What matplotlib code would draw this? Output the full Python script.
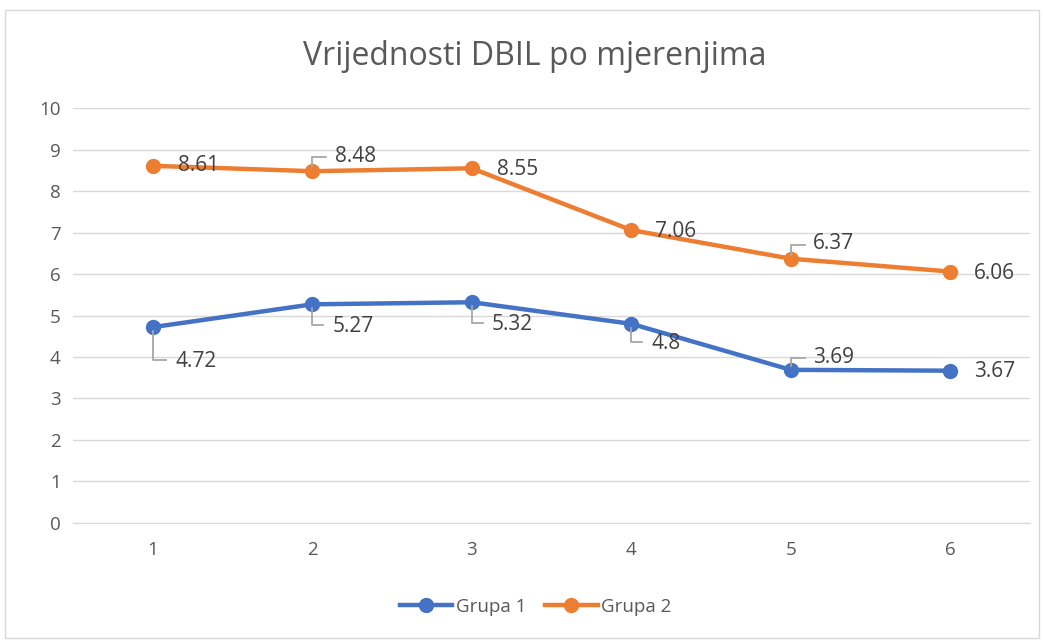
import matplotlib
matplotlib.use("Agg")
import matplotlib.pyplot as plt
from matplotlib.patches import Rectangle
from matplotlib.lines import Line2D

plt.rcParams['font.family'] = ['Open Sans', 'DejaVu Sans']

categories = [1, 2, 3, 4, 5, 6]
grupa1 = [4.72, 5.27, 5.32, 4.8, 3.69, 3.67]
grupa2 = [8.61, 8.48, 8.55, 7.06, 6.37, 6.06]
labels1 = ["4.72", "5.27", "5.32", "4.8", "3.69", "3.67"]
labels2 = ["8.61", "8.48", "8.55", "7.06", "6.37", "6.06"]
title = "Vrijednosti DBIL po mjerenjima"

BLUE = "#4472C4"
ORANGE = "#ED7D31"
TXT = "#404040"
GRAY = "#595959"

fig = plt.figure(figsize=(10.44, 6.4), dpi=100)
ax = fig.add_axes([0.070, 0.183, 0.9166, 0.648])

ax.plot(categories, grupa1, color=BLUE, lw=3.2, marker='o', ms=10, label="Grupa 1", zorder=3)
ax.plot(categories, grupa2, color=ORANGE, lw=3.2, marker='o', ms=10, label="Grupa 2", zorder=3)

ax.set_xlim(0.5, 6.5)
ax.set_ylim(0, 10)
ax.set_yticks(range(0, 11))
ax.set_xticks(categories)
ax.grid(axis='y', color='#D9D9D9', lw=1)
ax.set_axisbelow(True)
for s in ['top', 'right', 'left']:
    ax.spines[s].set_visible(False)
ax.spines['bottom'].set_color('#D9D9D9')
ax.tick_params(axis='both', length=0, labelsize=13.5, labelcolor=GRAY)
ax.tick_params(axis='y', pad=9)
ax.tick_params(axis='x', pad=13)

# label offsets in pixels (dx, dy) and leader line (dx_h, dy) or None
off2 = [(25, 0, None), (23, 15, (14, 14)), (25, -1, None), (24, -1, None), (22, 15, (14, 14)), (24, -2, None)]
off1 = [(23, -34, (13, -33)), (20, -22, (11, -21)), (20, -22, (11, -21)), (20, -20, (11, -18)), (22, 12, (14, 12)), (24, -1, None)]

def add_labels(vals, labs, offs):
    for x, y, lab, (dx, dy, lead) in zip(categories, vals, labs, offs):
        ax.annotate(lab, (x, y), xytext=(dx, dy), textcoords='offset pixels',
                    ha='left', va='center', fontsize=15, color=TXT, zorder=5)
        if lead is not None:
            hx, hy = lead
            sgn = 1 if hy > 0 else -1
            base = ax.transData.transform((x, y))
            xs = [base[0], base[0], base[0] + hx]
            ys = [base[1] + sgn * 4, base[1] + hy, base[1] + hy]
            ax.add_line(Line2D(xs, ys, transform=None, color='#A6A6A6', lw=1.3, zorder=4))

add_labels(grupa2, labels2, off2)
add_labels(grupa1, labels1, off1)

fig.text(0.512, 0.912, title, ha='center', va='center', fontsize=23, color=GRAY)

leg = fig.legend(loc='center', bbox_to_anchor=(0.513, 0.052), ncol=2, frameon=False,
                 fontsize=13.5, labelcolor=GRAY, handlelength=2.8, columnspacing=1.0, handletextpad=0.2)

fig.patches.append(Rectangle((0.005, 0.003), 0.99, 0.982, transform=fig.transFigure,
                             fill=False, edgecolor='#D9D9D9', lw=1))

fig.savefig("out.png", dpi=100, facecolor='white')
